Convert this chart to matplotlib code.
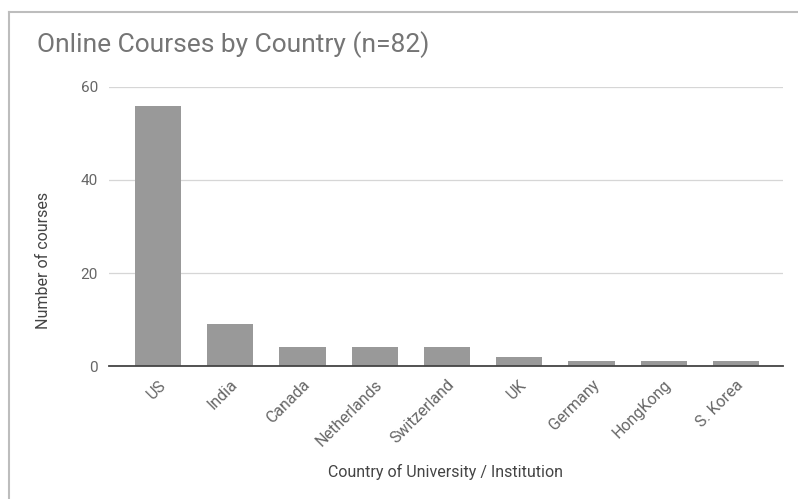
import matplotlib.pyplot as plt
from matplotlib.lines import Line2D

countries = ["US", "India", "Canada", "Netherlands", "Switzerland", "UK", "Germany", "HongKong", "S. Korea"]
courses = [56, 9, 4, 4, 4, 2, 1, 1, 1]
y_ticks = [0, 20, 40, 60]

plt.rcParams["font.family"] = ["Roboto", "DejaVu Sans"]

fig = plt.figure(figsize=(7.98, 4.99), dpi=100)
ax = fig.add_axes([0.1366, 0.2665, 0.981 - 0.1366, 0.8257 - 0.2665])

x = list(range(len(countries)))
ax.bar(x, courses, width=0.64, color="#999999", zorder=3)

ax.set_xlim(-0.678, 8.65)
ax.set_ylim(0, 60)
ax.set_yticks(y_ticks)
ax.set_xticks(x)
ax.set_xticklabels(countries, rotation=45, ha="right", rotation_mode="anchor")

ax.grid(axis="y", color="#d6d6d6", linewidth=0.9, zorder=0)
for s in ["top", "right", "left"]:
    ax.spines[s].set_visible(False)
ax.spines["bottom"].set_color("#444444")
ax.spines["bottom"].set_linewidth(1.3)
ax.spines["bottom"].set_zorder(4)
ax.tick_params(axis="both", length=0, colors="#666666")
ax.tick_params(axis="x", pad=8, labelsize=11.5)
ax.tick_params(axis="y", pad=8, labelsize=11)

ax.set_ylabel("Number of courses", fontsize=11.5, color="#444444")
ax.yaxis.set_label_coords(-0.0863, 0.38)
ax.set_xlabel("Country of University / Institution", fontsize=11.5, color="#444444", labelpad=11)

fig.text(37 / 798, 1 - 45 / 499, "Online Courses by Country (n=82)", fontsize=19,
         color="#757575", va="center", ha="left")

# outer border (top and left only visible)
fig.add_artist(Line2D([9 / 798, 1], [1 - 11.5 / 499, 1 - 11.5 / 499], transform=fig.transFigure,
                      color="#bdbdbd", linewidth=1.5))
fig.add_artist(Line2D([9 / 798, 9 / 798], [0, 1 - 11.5 / 499], transform=fig.transFigure,
                      color="#bdbdbd", linewidth=1.5))

fig.savefig("out.png", dpi=100)
